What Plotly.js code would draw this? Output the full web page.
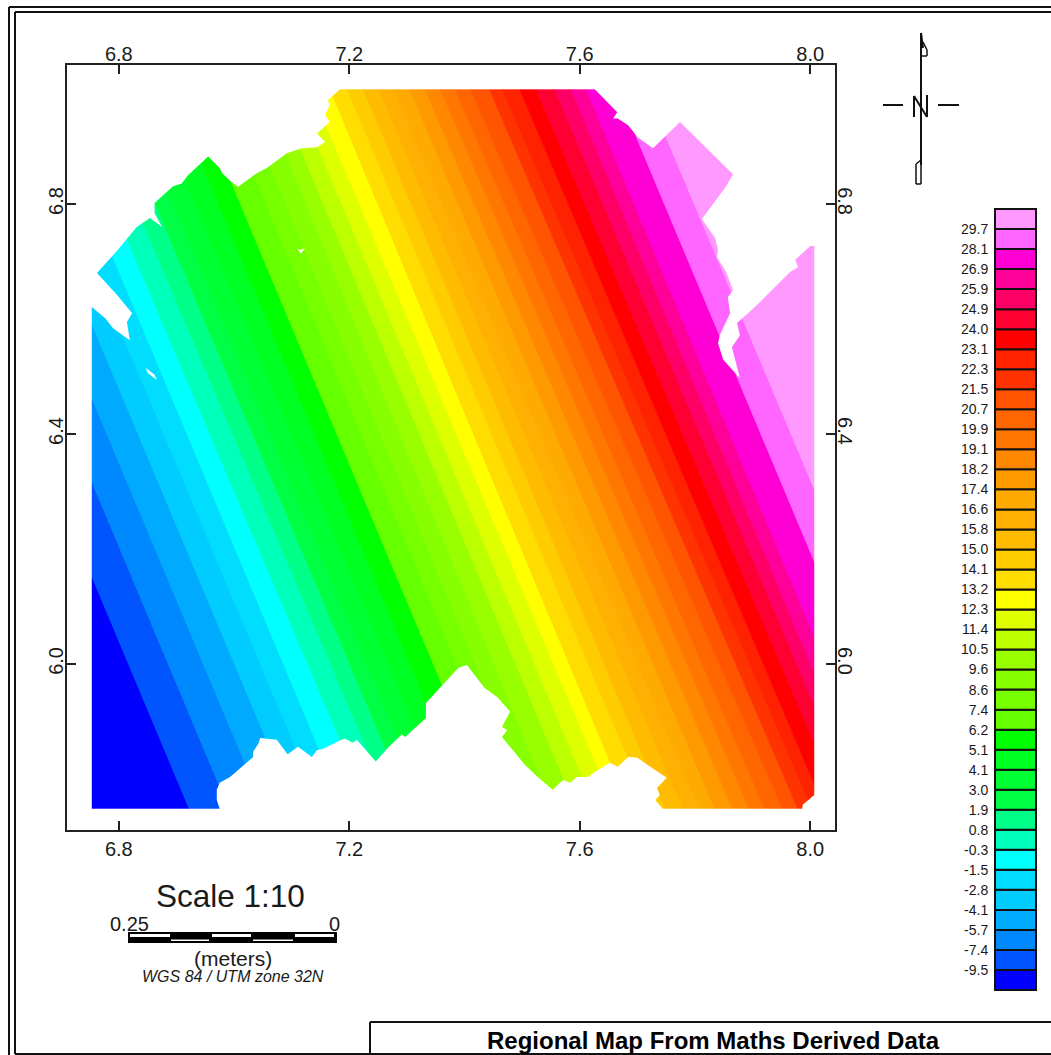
<!DOCTYPE html>
<html><head><meta charset="utf-8">
<script src="https://cdn.plot.ly/plotly-3.0.1.min.js"></script>
<style>html,body{margin:0;padding:0;background:#fff}#plot{width:1051px;height:1055px}</style>
</head><body><div id="plot"></div>
<script>
// Class-break values of the colour legend (low to high)
const breakValues = [-9.5,-7.4,-5.7,-4.1,-2.8,-1.5,-0.3,0.8,1.9,3.0,4.1,5.1,6.2,7.4,8.6,9.6,10.5,11.4,12.3,13.2,14.1,15.0,15.8,16.6,17.4,18.2,19.1,19.9,20.7,21.5,22.3,23.1,24.0,24.9,25.9,26.9,28.1,29.7];
// Colours of the 39 classes (low to high)
const classColors = ['#0000ff','#0055ff','#0088ff','#00aaff','#00ccff','#00ddff','#00ffff','#00ffbb','#00ff88','#00ff44','#00ff33','#00ff22','#00ff00','#66ff00','#77ff00','#88ff00','#99ff00','#bbff00','#ddff00','#ffff00','#ffdd00','#ffcc00','#ffbb00','#ffb000','#ffaa00','#ff9900','#ff8800','#ff7700','#ff6600','#ff5500','#ff3300','#ff2200','#ff0000','#ff0033','#ff0066','#ff0099','#ff00d4','#ff66ff','#ff99ff'];
// Easting of each contour break on two northing rows
const rowNorthA = 6.650, rowNorthB = 6.007;
const breakEastA = [6.545,6.614,6.675,6.729,6.774,6.814,6.852,6.892,6.927,6.958,6.996,7.036,7.074,7.118,7.152,7.187,7.218,7.250,7.281,7.312,7.343,7.371,7.399,7.425,7.453,7.481,7.508,7.534,7.562,7.593,7.616,7.644,7.673,7.704,7.731,7.757,7.810,7.862];
const breakEastB = [6.814,6.883,6.944,6.998,7.043,7.083,7.125,7.165,7.198,7.227,7.265,7.303,7.343,7.383,7.416,7.449,7.486,7.519,7.552,7.579,7.612,7.640,7.670,7.698,7.725,7.755,7.783,7.810,7.840,7.868,7.892,7.916,7.946,7.974,7.998,8.024,8.079,8.132];
// Outline of the mapped area (clockwise)
const areaEast = [6.753,6.753,6.776,6.790,6.819,6.814,6.823,6.797,6.762,6.798,6.831,6.854,6.875,6.862,6.862,6.894,6.909,6.920,6.955,6.975,6.979,6.996,7.007,7.040,7.057,7.092,7.118,7.144,7.158,7.144,7.166,7.158,7.166,7.163,7.184,7.626,7.665,7.658,7.666,7.684,7.701,7.727,7.774,7.866,7.854,7.823,7.812,7.835,7.840,7.838,7.854,7.866,7.857,7.861,7.843,7.840,7.849,7.878,7.864,7.878,7.873,7.904,7.921,7.965,7.979,7.974,8.000,8.007,8.007,7.987,7.986,7.744,7.731,7.739,7.734,7.751,7.718,7.699,7.684,7.666,7.652,7.626,7.614,7.595,7.583,7.571,7.553,7.527,7.505,7.465,7.474,7.465,7.479,7.458,7.435,7.404,7.389,7.343,7.333,7.333,7.297,7.291,7.267,7.246,7.213,7.206,7.192,7.178,7.154,7.144,7.135,7.111,7.093,7.074,7.045,7.043,7.033,7.033,6.993,6.975,6.970,6.970,6.975];
const areaNorth = [5.748,6.621,6.602,6.584,6.563,6.595,6.610,6.642,6.680,6.720,6.760,6.776,6.760,6.784,6.802,6.831,6.836,6.850,6.883,6.863,6.854,6.838,6.830,6.854,6.863,6.889,6.897,6.899,6.908,6.923,6.943,6.955,6.972,6.981,7.000,7.000,6.960,6.949,6.949,6.937,6.916,6.897,6.943,6.852,6.831,6.789,6.774,6.741,6.720,6.708,6.682,6.650,6.638,6.610,6.572,6.558,6.529,6.497,6.551,6.572,6.593,6.621,6.638,6.682,6.690,6.703,6.727,6.727,5.772,5.755,5.748,5.748,5.763,5.772,5.784,5.802,5.824,5.837,5.838,5.821,5.828,5.812,5.803,5.803,5.793,5.798,5.781,5.803,5.824,5.873,5.885,5.890,5.917,5.941,5.958,5.998,5.993,5.943,5.932,5.906,5.873,5.877,5.854,5.830,5.868,5.863,5.870,5.864,5.852,5.850,5.838,5.856,5.843,5.868,5.871,5.863,5.847,5.838,5.803,5.793,5.781,5.763,5.748];
// Two small gaps inside the mapped area
const gapOneEast = [7.109,7.114,7.123,7.116], gapOneNorth = [6.723,6.720,6.723,6.714];
const gapTwoEast = [6.847,6.862,6.866,6.850], gapTwoNorth = [6.515,6.503,6.494,6.506];
const axisTicks = [6.8,7.2,7.6,8.0];
const yTicks = [6.0,6.4,6.8];
const areaTop = 7.000, areaBottom = 5.748;
const eastRange = [6.71,8.043], northRange = [5.711,7.042];

const W = 1051, H = 1055;
const fx = p => p / W, fy = p => 1 - p / H;
const FONT = '"Liberation Sans", Arial, sans-serif';
const INK = '#1a1a1a';

function eastAt(i, north){
  const t = (north - rowNorthA) / (rowNorthB - rowNorthA);
  return breakEastA[i] + t * (breakEastB[i] - breakEastA[i]);
}
const traces = [];
classColors.forEach((c, k) => {
  const leftTop = k === 0 ? eastRange[0] : eastAt(k - 1, areaTop);
  const leftBot = k === 0 ? eastRange[0] : eastAt(k - 1, areaBottom);
  const rightTop = k === classColors.length - 1 ? eastRange[1] : eastAt(k, areaTop);
  const rightBot = k === classColors.length - 1 ? eastRange[1] : eastAt(k, areaBottom);
  traces.push({type:'scatter', mode:'lines', fill:'toself', fillcolor:c, hoverinfo:'skip', showlegend:false,
    line:{color:c, width:1, simplify:false},
    x:[leftTop,rightTop,rightBot,leftBot,leftTop], y:[areaTop,areaTop,areaBottom,areaBottom,areaTop]});
});
// white surround, leaving only the mapped area visible
traces.push({type:'scatter', mode:'lines', fill:'toself', fillcolor:'#ffffff', hoverinfo:'skip', showlegend:false,
  line:{color:'#ffffff', width:0, simplify:false},
  x:[...areaEast, areaEast[0], eastRange[0], eastRange[1], eastRange[1], eastRange[0], eastRange[0], areaEast[0]],
  y:[...areaNorth, areaNorth[0], northRange[0], northRange[0], northRange[1], northRange[1], northRange[0], areaNorth[0]]});
[[gapOneEast,gapOneNorth],[gapTwoEast,gapTwoNorth]].forEach(g => traces.push({type:'scatter', mode:'lines', fill:'toself', fillcolor:'#ffffff',
  hoverinfo:'skip', showlegend:false, line:{color:'#ffffff', width:0, simplify:false}, x:g[0], y:g[1], xaxis:'x2', yaxis:'y2'}));
// legend column
traces.push({type:'bar', x:classColors.map(()=> 'k'), y:classColors.map(()=>1), base:classColors.map((_,i)=>i), width:1, cliponaxis:false,
  marker:{color:classColors, line:{color:'#111', width:2}}, hoverinfo:'skip', showlegend:false, xaxis:'x3', yaxis:'y3'});

const tickFont = {family:FONT, size:20, color:INK};
const axisCommon = {showgrid:false, zeroline:false, showline:true, linecolor:'#222', linewidth:2, ticks:'inside', ticklen:9, tickwidth:2, tickcolor:'#222', tickfont:tickFont, fixedrange:true, tickmode:'array'};
const xDom = [fx(67), fx(835)], yDom = [fy(830), fy(65)];
const xOpts = {...axisCommon, domain:xDom, range:eastRange, tickvals:axisTicks, ticktext:axisTicks.map(v=>v.toFixed(1))};
const yOpts = {...axisCommon, domain:yDom, range:northRange, tickvals:yTicks, ticktext:yTicks.map(v=>v.toFixed(1))};

const shapes = [];
const rectPx = (x0,y0,x1,y1,fill,line,w) => shapes.push({type:'rect', xref:'paper', yref:'paper', x0:fx(x0), x1:fx(x1), y0:fy(y0), y1:fy(y1), fillcolor:fill, line:{color:line||fill, width:w||0}});
const linePx = (x0,y0,x1,y1,w) => shapes.push({type:'line', xref:'paper', yref:'paper', x0:fx(x0), x1:fx(x1), y0:fy(y0), y1:fy(y1), line:{color:'#111', width:w||2}});
// page frame
linePx(9,7,1051,7,2); linePx(9,7,9,1055,2);
linePx(15,12,1051,12,2); linePx(15,12,15,1054,2); linePx(15,1054,1051,1054,2);
// title box
linePx(370,1022,1051,1022,2); linePx(370,1022,370,1055,2);
// legend column border
rectPx(995,209,1036,990,'rgba(0,0,0,0)','#111',2);
// scale bar
rectPx(128,932,337,943,'#000');
[[130,170],[212,251],[295,334]].forEach(s => rectPx(s[0],934,s[1],937,'#fff'));
[[171,209],[253,293]].forEach(s => rectPx(s[0],939.5,s[1],941,'#fff'));
// north arrow
linePx(921,33,921,165,2); linePx(883,105,903,105,2); linePx(938,105,959,105,2);
linePx(921,33,923,48,2); linePx(923,42,927,50,1.5); linePx(927,50,927,56,1.5); linePx(927,56,921,56,1.5);
linePx(914,96,914,117,2); linePx(914,96,927,117,2); linePx(927,95,927,117,2);
linePx(921,160,916,164,1.5); linePx(916,164,916,184,1.5); linePx(916,184,921,184,1.5); linePx(921,184,921,160,1.5);

const ann = (text,x,y,size,extra) => ({text, xref:'paper', yref:'paper', x:fx(x), y:fy(y), xanchor:'center', yanchor:'middle', showarrow:false, font:{family:FONT, size, color:INK, ...(extra||{})}});
const annotations = [
  ann('Scale 1:10',230.5,896,31.5),
  ann('0.25',129,924,20),
  ann('0',334.5,924,20),
  ann('(meters)',233,958,21),
  ann('WGS 84 / UTM zone 32N',233,976,16,{style:'italic'}),
  ann('Regional Map From Maths Derived Data',713,1040.5,24,{weight:700, color:'#000'})
];

const layout = {
  width:W, height:H, margin:{l:0,r:0,t:0,b:0}, paper_bgcolor:'#fff', plot_bgcolor:'#fff', showlegend:false, barmode:'overlay',
  xaxis:{...xOpts, side:'bottom', anchor:'y'},
  yaxis:{...yOpts, side:'left', anchor:'x', tickangle:-90, ticklabelstandoff:-6},
  xaxis2:{...xOpts, side:'top', anchor:'y2', overlaying:'x', ticklabelstandoff:-6},
  yaxis2:{...yOpts, side:'right', anchor:'x2', overlaying:'y', tickangle:90, ticklabelstandoff:-7},
  xaxis3:{domain:[fx(995),fx(1036)], visible:false, fixedrange:true, anchor:'y3', type:'category'},
  yaxis3:{domain:[fy(990),fy(209)], range:[0,classColors.length], anchor:'x3', side:'left', showgrid:false, zeroline:false, showline:false, fixedrange:true,
    tickmode:'array', tickvals:breakValues.map((_,i)=>i+1), ticktext:breakValues.map(v=>v.toFixed(1)), ticks:'outside', ticklen:3, tickcolor:'rgba(0,0,0,0)',
    tickfont:{family:FONT, size:14, color:INK}},
  shapes, annotations
};
Plotly.newPlot('plot', traces, layout, {staticPlot:true, displayModeBar:false});
</script></body></html>
